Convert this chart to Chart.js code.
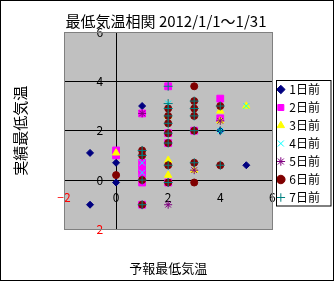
<!DOCTYPE html>
<html>
<head>
<meta charset="utf-8">
<script src="https://cdn.jsdelivr.net/npm/chart.js@4.4.0/dist/chart.umd.min.js"></script>
<style>
  body { margin: 0; background: #fff; }
</style>
</head>
<body>
<canvas id="min-temp" width="334" height="281"></canvas>
<script>
// [forecast, actual] pairs per lead day
const seriesNames = ["1日前", "2日前", "3日前", "4日前", "5日前", "6日前", "7日前"];
const day1 = [[-1, 1.1], [-1, -1.0], [0, 0.7], [0, -0.1], [1, 3.0], [4, 2.0], [5, 0.6]];
const day2 = [[0, 1.2], [0, 1.0], [1, 2.7], [1, 0.7], [1, 0.45], [1, 0.25], [1, -0.1], [1, -1.0],
  [2, 3.8], [2, 1.9], [2, 1.5], [2, -0.1], [3, 2.0], [4, 3.3], [4, 2.5]];
const day3 = [[0, 1.1], [2, 2.6], [2, 0.8], [2, 0.2], [3, 0.4], [4, 2.8], [4, 2.4], [5, 3.0]];
const day4 = [[1, 0.7], [1, 0.3], [2, 3.1], [4, 2.0], [5, 3.0]];
const day5 = [[1, 2.7], [2, -1.0], [3, 0.4], [4, 2.4]];
const day6 = [[0, 0.2], [1, 1.2], [1, 1.0], [1, 0.0], [1, -1.0], [2, 2.9], [2, 2.6], [2, 2.3],
  [2, 1.9], [2, 1.5], [2, 0.6], [2, -0.1], [3, 3.8], [3, 3.2], [3, 2.9], [3, 2.6], [3, 2.0],
  [3, 0.7], [3, -0.1], [4, 3.0], [4, 0.6]];
const day7 = [[1, 1.2], [1, 1.0], [1, 0.0], [1, -1.0], [2, 3.8], [2, 3.1], [2, 2.9], [2, 2.6],
  [2, 2.3], [2, 1.9], [2, 1.5], [2, 0.6], [2, -0.1], [3, 3.2], [3, 2.9], [3, 2.6], [3, 2.0],
  [3, 0.7], [4, 3.0], [4, 0.6], [4, 2.0]];
const axisMin = -2;
const axisMax = 6;
const axisStep = 2;

const allSeries = [day1, day2, day3, day4, day5, day6, day7];
const colors = ["#000080", "#FF00FF", "#FFFF00", "#00FFFF", "#800080", "#800000", "#008080"];
const markers = ["rectRot", "rect", "triangle", "crossRot", "star", "circle", "cross"];
const sizes = [3.5, 4.8, 4.2, 4, 4, 3.5, 4.5];

Chart.defaults.font.family = "'Noto Sans CJK JP', 'Noto Sans', sans-serif";
Chart.defaults.color = "#000";

const frame = {
  id: "frame",
  beforeDraw(chart) {
    const { ctx, chartArea: a } = chart;
    ctx.save();
    ctx.fillStyle = "#fff";
    ctx.fillRect(0, 0, chart.width, chart.height);
    ctx.fillStyle = "#C0C0C0";
    ctx.fillRect(a.left, a.top, a.right - a.left, a.bottom - a.top);
    ctx.restore();
  },
  afterDraw(chart) {
    const { ctx, chartArea: a } = chart;
    ctx.save();
    ctx.lineWidth = 1;
    // plot area border
    ctx.strokeStyle = "#808080";
    ctx.strokeRect(Math.round(a.left) + 0.5, Math.round(a.top) + 0.5,
      Math.round(a.right - a.left), Math.round(a.bottom - a.top));
    // legend box
    const boxes = chart.legend.legendHitBoxes;
    const first = boxes[0];
    const last = boxes[boxes.length - 1];
    const lx = Math.round(first.left - 2) + 0.5;
    const ly = Math.round(first.top - 4) + 0.5;
    ctx.strokeStyle = "#000";
    ctx.strokeRect(lx, ly, chart.width - 3 - lx, Math.round(last.top + last.height + 2) - ly);
    // outer border
    ctx.strokeRect(0.5, 0.5, chart.width - 1, chart.height - 1);
    ctx.restore();
  },
};

const tickColor = (c) => (c.tick.value < 0 ? "#FF0000" : "#000");
const tickText = (v) => (v < 0 ? "\u2212" + Math.abs(v) : String(v));

const datasets = allSeries.map((pts, i) => ({
  label: seriesNames[i],
  data: pts.map(([x, y]) => ({ x, y })),
  pointStyle: markers[i],
  pointRadius: sizes[i],
  pointHoverRadius: sizes[i],
  backgroundColor: colors[i],
  borderColor: colors[i],
  borderWidth: 1,
  order: allSeries.length - i,
  xAxisID: "x",
  yAxisID: "y",
}));

const titleOnly = {
  type: "linear",
  ticks: { display: false },
  grid: { display: false, drawTicks: false },
  border: { display: false },
};

new Chart(document.getElementById("min-temp"), {
  type: "scatter",
  data: { datasets },
  options: {
    responsive: false,
    animation: false,
    layout: { padding: { left: 2, right: 4, top: 0, bottom: 0 } },
    plugins: {
      title: {
        display: true,
        text: "最低気温相関 2012/1/1〜1/31",
        font: { size: 15, weight: "normal" },
        color: "#000",
        padding: { top: 12.5, bottom: 1.5 },
      },
      legend: {
        position: "right",
        reverse: true,
        maxWidth: 90,
        // empty title only nudges the entries down a little
        title: { display: true, text: " ", font: { size: 5 }, padding: 0 },
        labels: {
          usePointStyle: true,
          boxWidth: 5,
          boxHeight: 6,
          padding: 6,
          font: { size: 12 },
          color: "#000",
        },
      },
      tooltip: { enabled: false },
    },
    scales: {
      x: {
        type: "linear",
        position: { y: 0 },
        min: axisMin,
        max: axisMax,
        ticks: { stepSize: axisStep, color: tickColor, callback: tickText, font: { size: 12 }, padding: 10 },
        grid: { display: false, drawTicks: false },
        border: { display: true, color: "#000", width: 1 },
      },
      y: {
        type: "linear",
        position: { x: 0 },
        min: axisMin,
        max: axisMax,
        ticks: { stepSize: axisStep, display: false },
        grid: {
          drawTicks: false,
          color: (c) => (c.tick && (c.tick.value === 2 || c.tick.value === 4) ? "#000" : "rgba(0,0,0,0)"),
        },
        border: { display: true, color: "#000", width: 1 },
      },
      // tick labels of the value axis, set a little left of the crossing line
      yLabels: {
        type: "linear",
        position: { x: -0.5 },
        min: axisMin,
        max: axisMax,
        ticks: { stepSize: axisStep, color: tickColor, callback: tickText, font: { size: 12 } },
        grid: { display: false, drawTicks: false },
        border: { display: false },
      },
      xTitle: {
        ...titleOnly,
        position: "bottom",
        title: {
          display: true,
          text: "予報最低気温",
          font: { size: 13 },
          color: "#000",
          padding: { top: 31, bottom: 5 },
        },
      },
      yTitle: {
        ...titleOnly,
        position: "left",
        title: {
          display: true,
          text: "実績最低気温",
          font: { size: 15 },
          color: "#000",
          padding: { top: 9, bottom: 35 },
        },
      },
    },
  },
  plugins: [frame],
});
</script>
</body>
</html>
